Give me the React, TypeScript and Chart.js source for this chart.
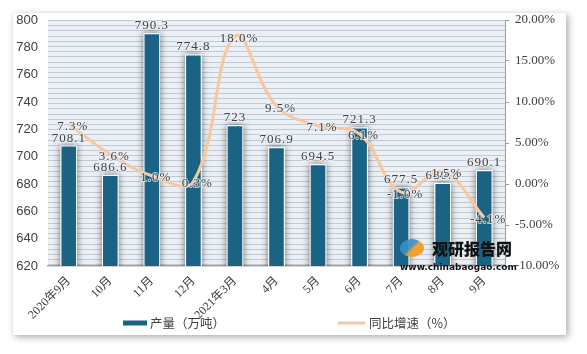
import React, { useEffect, useRef } from 'react';
import { Chart, registerables } from 'chart.js';

Chart.register(...registerables);

const categories = ['2020年9月', '10月', '11月', '12月', '2021年3月', '4月', '5月', '6月', '7月', '8月', '9月'];
const production = [708.1, 686.6, 790.3, 774.8, 723, 706.9, 694.5, 721.3, 677.5, 680.8, 690.1];
const growth = [7.3, 3.6, 1.0, 0.3, 18.0, 9.5, 7.1, 6.1, -1.0, 1.5, -4.1];
const productionLabel = '产量（万吨）';
const growthLabel = '同比增速（%）';
const leftRange = [620, 800, 20];
const rightRange = [-10, 20, 5];

const BAR_COLOR = '#1b6385';
const LINE_COLOR = '#f9c79c';
const TEXT = '#404040';
const LABEL_FONT = "13px 'Liberation Serif', 'Noto Sans CJK SC', serif";

export default function App() {
  const ref = useRef<HTMLCanvasElement>(null);

  useEffect(() => {
    const canvas = ref.current;
    if (!canvas) return;

    const drawLabel = (ctx: any, text: string, x: number, y: number) => {
      ctx.strokeText(text, x, y);
      ctx.fillText(text, x, y);
    };

    const bgPlugin = {
      id: 'bgPattern',
      beforeDraw(chart: any) {
        const { ctx, chartArea: a } = chart;
        ctx.save();
        ctx.fillStyle = '#eaf0f6';
        ctx.fillRect(a.left, a.top, a.right - a.left, a.bottom - a.top);
        ctx.strokeStyle = '#c3c9d0';
        ctx.lineWidth = 1;
        for (let y = a.top; y < a.bottom - 1; y += 5.2) {
          const yy = Math.round(y) + 0.5;
          ctx.beginPath();
          ctx.moveTo(a.left, yy);
          ctx.lineTo(a.right, yy);
          ctx.stroke();
        }
        ctx.restore();
      },
      beforeDatasetsDraw(chart: any) {
        const { ctx, chartArea: a } = chart;
        const meta = chart.getDatasetMeta(1);
        ctx.save();
        ctx.beginPath();
        ctx.rect(a.left, a.top, a.right - a.left, a.bottom - a.top);
        ctx.clip();
        meta.data.forEach((el: any) => {
          const { x, y, base, width } = el.getProps(['x', 'y', 'base', 'width'], true);
          ctx.save();
          ctx.shadowColor = 'rgba(0,0,0,0.55)';
          ctx.shadowBlur = 7;
          ctx.fillStyle = '#ffffff';
          ctx.fillRect(x - width / 2, y, width, base - y);
          ctx.restore();
        });
        ctx.restore();
      },
      afterDatasetsDraw(chart: any) {
        const { ctx } = chart;
        ctx.save();
        ctx.font = LABEL_FONT;
        (ctx as any).letterSpacing = '1px';
        ctx.fillStyle = TEXT;
        ctx.strokeStyle = 'rgba(235,241,247,0.75)';
        ctx.lineWidth = 2;
        ctx.lineJoin = 'round';
        const barMeta = chart.getDatasetMeta(1);
        ctx.textAlign = 'center';
        ctx.textBaseline = 'bottom';
        barMeta.data.forEach((el: any, i: number) => {
          drawLabel(ctx, String(production[i]), el.x, el.y - 1);
        });
        const lineMeta = chart.getDatasetMeta(0);
        ctx.textBaseline = 'middle';
        lineMeta.data.forEach((el: any, i: number) => {
          drawLabel(ctx, growth[i].toFixed(1) + '%', el.x + 4, el.y + 2);
        });
        ctx.restore();
      },
      afterDraw(chart: any) {
        const { ctx } = chart;
        ctx.save();
        const ly = 323;
        ctx.fillStyle = BAR_COLOR;
        ctx.fillRect(123, ly - 2.5, 24, 5);
        ctx.strokeStyle = LINE_COLOR;
        ctx.lineWidth = 3;
        ctx.beginPath();
        ctx.moveTo(338, ly);
        ctx.lineTo(365, ly);
        ctx.stroke();
        ctx.font = "12.5px 'Noto Sans CJK SC', sans-serif";
        ctx.fillStyle = TEXT;
        ctx.textAlign = 'left';
        ctx.textBaseline = 'middle';
        ctx.fillText(productionLabel, 150, ly);
        ctx.fillText(growthLabel, 369, ly);
        ctx.restore();
      },
    };

    const chart = new Chart(canvas, {
      type: 'bar',
      data: {
        labels: categories,
        datasets: [
          {
            type: 'line',
            label: growthLabel,
            data: growth,
            yAxisID: 'y1',
            borderColor: LINE_COLOR,
            borderWidth: 3,
            tension: 0.4,
            pointRadius: 0,
            order: 0,
          } as any,
          {
            type: 'bar',
            label: productionLabel,
            data: production,
            yAxisID: 'y',
            backgroundColor: BAR_COLOR,
            borderColor: '#ffffff',
            borderWidth: 1,
            barPercentage: 0.4,
            categoryPercentage: 1,
            order: 1,
          },
        ],
      },
      options: {
        animation: false,
        responsive: false,
        devicePixelRatio: 1,
        layout: { padding: { top: 20, left: 0, right: 0, bottom: 0 } },
        plugins: { legend: { display: false }, tooltip: { enabled: false } },
        scales: {
          x: {
            grid: { display: false, drawTicks: false },
            border: { display: true, color: '#a6a6a6', width: 1.5 },
            ticks: {
              color: TEXT,
              font: { family: "'Liberation Serif', 'Noto Sans CJK SC', serif", size: 12 },
              maxRotation: 45,
              minRotation: 45,
              padding: 8,
              autoSkip: false,
            },
            afterFit: (s: any) => { s.height = 88; },
          },
          y: {
            position: 'left',
            min: leftRange[0],
            max: leftRange[1],
            grid: { display: false, drawTicks: false },
            border: { display: false },
            ticks: {
              stepSize: leftRange[2],
              color: TEXT,
              font: { family: "'Liberation Sans', sans-serif", size: 13 },
              padding: 10,
            },
            afterFit: (s: any) => { s.width = 48; },
          },
          y1: {
            position: 'right',
            min: rightRange[0],
            max: rightRange[1],
            grid: { drawOnChartArea: false, tickLength: 4, color: '#9a9a9a' },
            border: { display: true, color: '#9a9a9a' },
            ticks: {
              stepSize: rightRange[2],
              color: TEXT,
              font: { family: "'Liberation Serif', serif", size: 13 },
              padding: 6,
              callback: (v: any) => Number(v).toFixed(2) + '%',
            },
            afterFit: (s: any) => { s.width = 82; },
          },
        },
      },
      plugins: [bgPlugin],
    });

    return () => chart.destroy();
  }, []);

  return (
    <div style={{ position: 'fixed', left: 0, top: 0, width: 587, height: 354, background: '#ffffff', overflow: 'hidden' }}>
      <div
        style={{
          position: 'absolute',
          left: 13,
          top: 13,
          width: 553,
          height: 322,
          background: '#ffffff',
          boxShadow: '2px 2px 7px rgba(0,0,0,0.35)',
        }}
      />
      <canvas ref={ref} width={587} height={354} style={{ position: 'absolute', left: 0, top: 0, width: 587, height: 354 }} />
      <div
        style={{
          position: 'absolute',
          left: 400,
          top: 238,
          width: 112,
          whiteSpace: 'nowrap',
          fontFamily: "'Noto Sans CJK SC', sans-serif",
          color: '#111',
          pointerEvents: 'none',
        }}
      >
        <div style={{ display: 'flex', alignItems: 'center' }}>
          <div style={{ width: 24, height: 18, borderRadius: '50%', background: 'linear-gradient(135deg, #3b8fc8 0%, #3b8fc8 45%, #f39a1e 55%, #f39a1e 100%)', marginRight: 8, opacity: 0.9 }} />
          <span style={{ fontSize: 16, fontWeight: 900, lineHeight: '20px' }}>观研报告网</span>
        </div>
        <div style={{ fontSize: 9, fontWeight: 700, fontFamily: "'DejaVu Sans', sans-serif", lineHeight: '12px', marginTop: 3 }}>www.chinabaogao.com</div>
      </div>
    </div>
  );
}
